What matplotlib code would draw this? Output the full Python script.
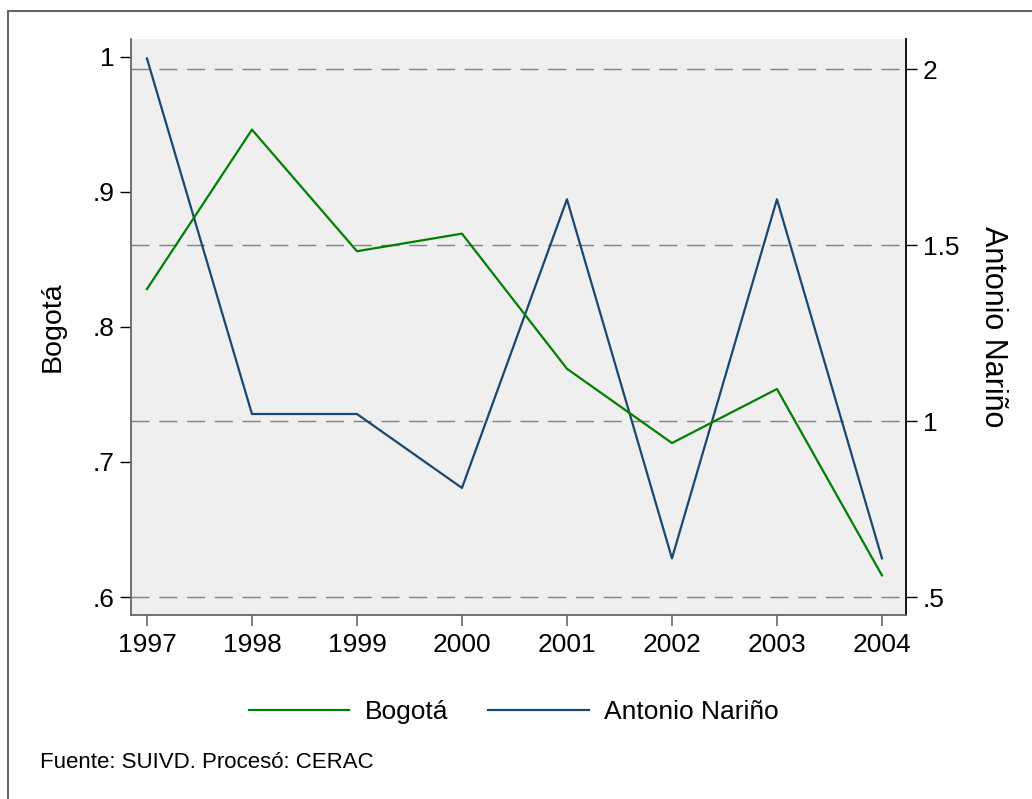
import matplotlib.pyplot as plt
from matplotlib.lines import Line2D
from matplotlib.patches import Rectangle

plt.rcParams['font.family'] = ['Liberation Sans', 'DejaVu Sans']

# datos
anios = [1997, 1998, 1999, 2000, 2001, 2002, 2003, 2004]
bogota = [0.828, 0.946, 0.856, 0.869, 0.769, 0.714, 0.754, 0.616]
antonio_narino = [2.03, 1.02, 1.02, 0.81, 1.63, 0.61, 1.63, 0.61]
ticks_izq = [0.6, 0.7, 0.8, 0.9, 1.0]
etiq_izq = ['.6', '.7', '.8', '.9', '1']
ticks_der = [0.5, 1.0, 1.5, 2.0]
etiq_der = ['.5', '1', '1.5', '2']

verde = '#008000'
azul = '#1a476f'
gris = '#666666'

fig = plt.figure(figsize=(10.32, 7.99), dpi=100)
ax = fig.add_axes([131/1032, 1-615/799, 775/1032, 576/799])
ax2 = ax.twinx()

# ax2 detras (fondo gris y rejilla), ax delante
ax.set_zorder(ax2.get_zorder() + 1)
ax.patch.set_visible(False)
ax2.patch.set_visible(True)
ax2.patch.set_facecolor('#efefef')

ax.plot(anios, bogota, color=verde, lw=1.6)
ax2.plot(anios, antonio_narino, color=azul, lw=1.6)

ax.set_xlim(1996.848, 2004.229)
ax.set_ylim(0.5867, 1.0131)
ax2.set_ylim(0.449, 2.0854)

ax.set_xticks(anios)
ax.set_yticks(ticks_izq, etiq_izq)
ax2.set_yticks(ticks_der, etiq_der)

ax2.grid(axis='y', color='#808080', lw=1.0, ls=(0, (13, 7)))
ax2.set_axisbelow(True)

for s in ['top', 'right']:
    ax.spines[s].set_visible(False)
for s in ['top', 'left', 'bottom']:
    ax2.spines[s].set_visible(False)
ax.spines['left'].set_color(gris)
ax.spines['bottom'].set_color(gris)
ax.spines['left'].set_linewidth(1.3)
ax.spines['bottom'].set_linewidth(1.3)
ax2.spines['right'].set_color('black')
ax2.spines['right'].set_linewidth(1.3)

ax.tick_params(axis='x', labelsize=19, length=8, color=gris, width=1.2, pad=5)
ax.tick_params(axis='y', labelsize=19, length=8, color='black', width=1.0, pad=4)
ax2.tick_params(axis='y', labelsize=19, length=8, color='black', width=1.0, pad=4)

ax.set_ylabel('Bogotá', fontsize=20.5)
ax.yaxis.set_label_coords(-0.1006, 0.5)
ax.yaxis.label.set_va('center')
ax2.set_ylabel('Antonio Nariño', fontsize=22, rotation=-90)
ax2.yaxis.set_label_coords(1.112, 0.5)
ax2.yaxis.label.set_va('center')

handles = [Line2D([], [], color=verde, lw=1.6), Line2D([], [], color=azul, lw=1.6)]
fig.legend(handles, ['Bogotá', 'Antonio Nariño'], loc='center', ncol=2,
           bbox_to_anchor=(514/1032, 1-712/799), frameon=False, fontsize=19,
           handlelength=3.8, handletextpad=0.6, columnspacing=1.5)

fig.text(40/1032, 1-768/799, 'Fuente: SUIVD. Procesó: CERAC', fontsize=16,
         va='baseline', ha='left')

# marco exterior
fig.patches.append(Rectangle((8/1032, -0.1), 1.5, 1.1 - 10.7/799, transform=fig.transFigure,
                             fill=False, edgecolor=gris, lw=1.5))

fig.savefig('out.png', dpi=100)
